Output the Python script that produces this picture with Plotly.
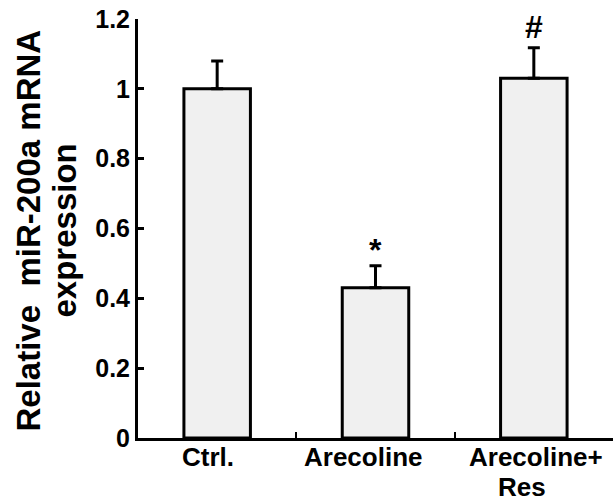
import plotly.graph_objects as go

categories = ["Ctrl.", "Arecoline", "Arecoline+<br>Res"]
values = [1.0, 0.43, 1.03]
errors = [0.08, 0.063, 0.088]
marks = ["", "*", "#"]
y_ticks = [0, 0.2, 0.4, 0.6, 0.8, 1.0, 1.2]
y_tick_text = ["0", "0.2", "0.4", "0.6", "0.8", "1", "1.2"]
y_title_lines = ["Relative  miR-200a mRNA", "expression"]

FONT = "Liberation Sans, Arial, sans-serif"
label_xshift = [[-9], [-12], [2, -12]]
mark_yshift = {"*": -4, "#": 1}

fig = go.Figure()
fig.add_trace(go.Bar(
    x=categories, y=values,
    width=0.42,
    marker=dict(color="#f0f0f0", line=dict(color="black", width=3)),
    error_y=dict(type="data", symmetric=False, array=errors,
                 arrayminus=[0] * len(values), color="black",
                 thickness=3, width=6),
    showlegend=False,
))

for c, v, e, m in zip(categories, values, errors, marks):
    if m:
        fig.add_annotation(x=c, y=v + e, text="<b>" + m + "</b>", showarrow=False,
                           yanchor="bottom", yshift=mark_yshift[m],
                           font=dict(family=FONT, size=32, color="black"))

for c, shifts in zip(categories, label_xshift):
    for j, (line, xs) in enumerate(zip(c.split("<br>"), shifts)):
        fig.add_annotation(x=c, y=0, yanchor="top", xanchor="center",
                           xshift=xs, yshift=-2 - 30 * j,
                           text="<b>" + line + "</b>", showarrow=False,
                           font=dict(family=FONT, size=26, color="black"))

for line, shift in zip(y_title_lines, [-110, -74]):
    fig.add_annotation(x=0, y=0.5, xref="paper", yref="paper",
                       xanchor="center", yanchor="middle",
                       xshift=shift, yshift=-2, textangle=-90,
                       text="<b>" + line + "</b>", showarrow=False,
                       font=dict(family=FONT, size=33, color="black"))

fig.update_layout(
    width=615, height=502,
    margin=dict(l=138, r=2, t=19, b=64),
    plot_bgcolor="white", paper_bgcolor="white",
    font=dict(family=FONT, color="black"),
    xaxis=dict(
        type="category", range=[-0.5, 2.5],
        showline=True, linecolor="black", linewidth=3,
        ticks="inside", ticklen=6, tickwidth=2, tickcolor="black",
        tickson="boundaries", showticklabels=False, automargin=False,
        showgrid=False, zeroline=False,
    ),
    yaxis=dict(
        range=[0, 1.2], automargin=False,
        tickvals=y_ticks, ticktext=["<b>" + t + "</b>" for t in y_tick_text],
        showline=True, linecolor="black", linewidth=3,
        ticks="inside", ticklen=6, tickwidth=3, tickcolor="black",
        tickfont=dict(family=FONT, size=25, color="black"),
        showgrid=False, zeroline=False,
    ),
)

fig.write_html("out.html", post_script="document.body.style.margin='0';",
               config={"displayModeBar": False})
